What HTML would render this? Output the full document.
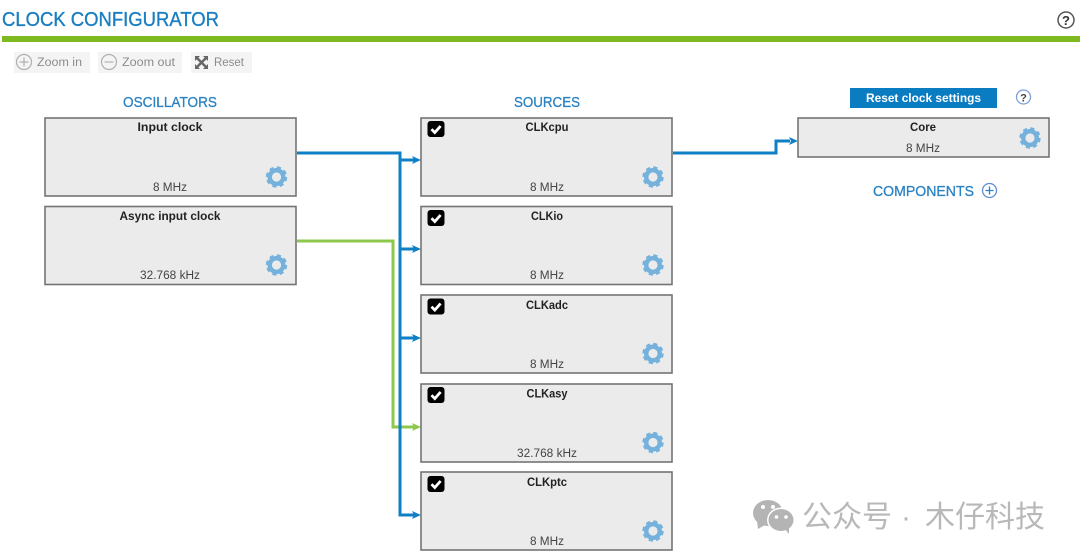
<!DOCTYPE html>
<html><head><meta charset="utf-8"><style>
html,body{margin:0;padding:0;background:#fff;width:1080px;height:558px;overflow:hidden}
svg{display:block}
text{font-family:"Liberation Sans","Noto Sans CJK SC",sans-serif}
.h{fill:#2a82c2;font-size:15px;stroke:#2a82c2;stroke-width:.3px}
.b{fill:#222;font-size:11.5px;font-weight:bold;text-anchor:middle}
.v{fill:#444;font-size:11.5px;text-anchor:middle}
.box{fill:#ebebeb;stroke:#747474;stroke-width:1.6}
.t{fill:#8c8c8c;font-size:11.5px}
</style></head><body>
<svg width="1080" height="558" viewBox="0 0 1080 558" xmlns="http://www.w3.org/2000/svg">
<defs>
<g id="gear"><circle r="6.8" fill="none" stroke="#74b1dc" stroke-width="4.4"/><circle r="9.3" fill="none" stroke="#74b1dc" stroke-width="2.8" stroke-dasharray="4.1 3.2"/></g>
<g id="chk"><rect x="-8.500" y="-8" width="17" height="16" rx="3" fill="#000"/><path d="M-4.500 0.200 L-1.200 3.600 L4.600 -3" fill="none" stroke="#fff" stroke-width="2.800"/></g>
<path id="ab" d="M0 0 L-9 -4 L-7 0 L-9 4 Z"/>
</defs>

<text x="2" y="26" fill="#1a7fc1" stroke="#1a7fc1" stroke-width=".35" font-size="20" textLength="217" lengthAdjust="spacingAndGlyphs">CLOCK CONFIGURATOR</text>
<rect x="2" y="36" width="1078" height="6" fill="#7fb920"/>
<circle cx="1066" cy="20" r="8" fill="none" stroke="#555" stroke-width="1.500"/>
<text x="1066" y="25" font-size="13" font-weight="bold" fill="#333" text-anchor="middle">?</text>

<rect x="14" y="52" width="76" height="21" fill="#f4f4f4"/>
<circle cx="24" cy="62" r="7.500" fill="none" stroke="#b0b0b0" stroke-width="1.200"/>
<path d="M19.500 62H28.500M24 57.500V66.500" stroke="#b0b0b0" stroke-width="1.200"/>
<text class="t" x="37" y="66" textLength="45" lengthAdjust="spacingAndGlyphs">Zoom in</text>
<rect x="98" y="52" width="84" height="21" fill="#f4f4f4"/>
<circle cx="109" cy="62" r="7.500" fill="none" stroke="#b0b0b0" stroke-width="1.200"/>
<path d="M104.500 62H113.500" stroke="#b0b0b0" stroke-width="1.200"/>
<text class="t" x="122" y="66" textLength="53" lengthAdjust="spacingAndGlyphs">Zoom out</text>
<rect x="191" y="52" width="61" height="21" fill="#f4f4f4"/>
<path d="M196 57L207 68M207 57L196 68" stroke="#666" stroke-width="2.400"/>
<path d="M195 56h5l-5 5zM208 56h-5l5 5zM195 69h5l-5-5zM208 69h-5l5-5z" fill="#666"/>
<text class="t" x="214" y="66" textLength="30" lengthAdjust="spacingAndGlyphs">Reset</text>

<text class="h" x="123" y="107" textLength="94" lengthAdjust="spacingAndGlyphs">OSCILLATORS</text>
<text class="h" x="514" y="107" textLength="66" lengthAdjust="spacingAndGlyphs">SOURCES</text>
<text class="h" x="873" y="196" textLength="101" lengthAdjust="spacingAndGlyphs">COMPONENTS</text>
<circle cx="989.500" cy="190.500" r="7" fill="none" stroke="#5f8fd0" stroke-width="1.300"/>
<path d="M985.500 190.500H993.500M989.500 186.500V194.500" stroke="#2a82c2" stroke-width="1.300"/>

<rect x="850" y="88" width="147" height="20" fill="#0a7cc1"/>
<text x="866" y="102" fill="#fff" font-size="11.500" font-weight="bold" textLength="115" lengthAdjust="spacingAndGlyphs">Reset clock settings</text>
<circle cx="1023.500" cy="97" r="7" fill="none" stroke="#7d9fd8" stroke-width="1.300"/>
<text x="1023.500" y="101.500" font-size="11" font-weight="bold" fill="#444" text-anchor="middle">?</text>

<!-- connectors -->
<g fill="none" stroke-width="3">
<path d="M297 241H393V427H414" stroke="#8cc84b"/>
<path d="M297 153H400V515H414M400 160H414M400 249H414M400 338H414" stroke="#0f7fc6"/>
<path d="M673 153H776V141H790" stroke="#0f7fc6"/>
</g>
<g fill="#0f7fc6">
<use href="#ab" x="421" y="160"/><use href="#ab" x="421" y="249"/><use href="#ab" x="421" y="338"/><use href="#ab" x="421" y="515"/><use href="#ab" x="798" y="141"/>
</g>
<use href="#ab" x="421" y="427" fill="#8cc84b"/>

<!-- oscillators -->
<rect class="box" x="45" y="118" width="251" height="78"/>
<text class="b" x="170" y="131" textLength="65" lengthAdjust="spacingAndGlyphs">Input clock</text>
<text class="v" x="170" y="191" textLength="34" lengthAdjust="spacingAndGlyphs">8 MHz</text>
<use href="#gear" x="276.500" y="177"/>

<rect class="box" x="45" y="206.500" width="251" height="78"/>
<text class="b" x="170" y="220" textLength="101" lengthAdjust="spacingAndGlyphs">Async input clock</text>
<text class="v" x="170" y="279" textLength="60" lengthAdjust="spacingAndGlyphs">32.768 kHz</text>
<use href="#gear" x="276.500" y="265"/>

<!-- sources -->
<rect class="box" x="421" y="118" width="251" height="78"/>
<use href="#chk" x="436" y="129"/>
<text class="b" x="547" y="131" textLength="43" lengthAdjust="spacingAndGlyphs">CLKcpu</text>
<text class="v" x="547" y="191" textLength="34" lengthAdjust="spacingAndGlyphs">8 MHz</text>
<use href="#gear" x="653" y="177"/>

<rect class="box" x="421" y="206.500" width="251" height="78"/>
<use href="#chk" x="436" y="218"/>
<text class="b" x="547" y="220" textLength="32" lengthAdjust="spacingAndGlyphs">CLKio</text>
<text class="v" x="547" y="279" textLength="34" lengthAdjust="spacingAndGlyphs">8 MHz</text>
<use href="#gear" x="653" y="265"/>

<rect class="box" x="421" y="295" width="251" height="78"/>
<use href="#chk" x="436" y="306.500"/>
<text class="b" x="547" y="309" textLength="42" lengthAdjust="spacingAndGlyphs">CLKadc</text>
<text class="v" x="547" y="368" textLength="34" lengthAdjust="spacingAndGlyphs">8 MHz</text>
<use href="#gear" x="653" y="353.500"/>

<rect class="box" x="421" y="384" width="251" height="78"/>
<use href="#chk" x="436" y="395"/>
<text class="b" x="547" y="397.500" textLength="41" lengthAdjust="spacingAndGlyphs">CLKasy</text>
<text class="v" x="547" y="457" textLength="60" lengthAdjust="spacingAndGlyphs">32.768 kHz</text>
<use href="#gear" x="653" y="442.500"/>

<rect class="box" x="421" y="472" width="251" height="78"/>
<use href="#chk" x="436" y="484"/>
<text class="b" x="547" y="486" textLength="40" lengthAdjust="spacingAndGlyphs">CLKptc</text>
<text class="v" x="547" y="545" textLength="34" lengthAdjust="spacingAndGlyphs">8 MHz</text>
<use href="#gear" x="653" y="531"/>

<!-- core -->
<rect class="box" x="798" y="118" width="251" height="39"/>
<text class="b" x="923" y="131" textLength="26" lengthAdjust="spacingAndGlyphs">Core</text>
<text class="v" x="923" y="152" textLength="34" lengthAdjust="spacingAndGlyphs">8 MHz</text>
<use href="#gear" x="1030" y="138"/>

<!-- watermark -->
<g fill="#b4b4b4">
<ellipse cx="768" cy="513" rx="15" ry="13"/>
<path d="M757 521l1 8 7-4z"/>
</g>
<ellipse cx="781" cy="520" rx="14" ry="12.500" fill="#fff"/>
<g fill="#b4b4b4">
<ellipse cx="781" cy="520" rx="12.500" ry="11"/>
<path d="M785 529l4 5 0-7z"/>
</g>
<g fill="#fff"><circle cx="763" cy="507" r="2"/><circle cx="773" cy="507" r="2"/><circle cx="776.500" cy="517" r="1.800"/><circle cx="786" cy="517" r="1.800"/></g>
<g font-size="30" fill="#b8b8b8" style='font-family:"Noto Sans CJK SC",sans-serif'>
<text x="802" y="527">公众号</text>
<text x="906" y="527" text-anchor="middle">·</text>
<text x="925" y="527">木仔科技</text>
</g>
</svg>
</body></html>
